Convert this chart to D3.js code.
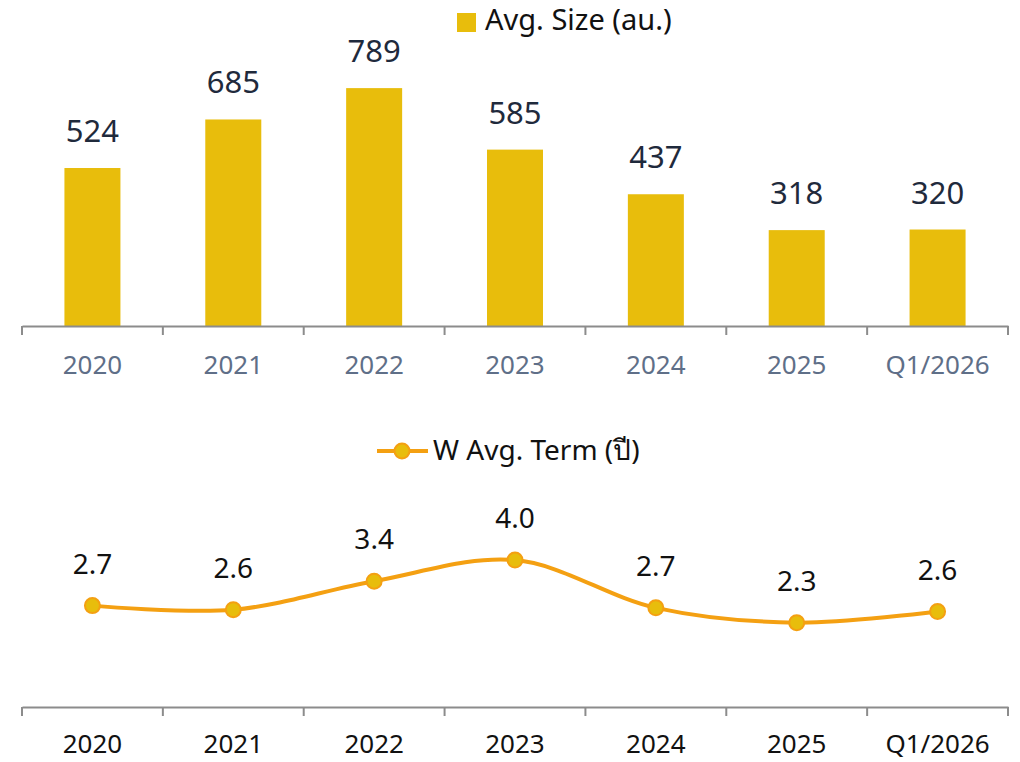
<!DOCTYPE html>
<html><head><meta charset="utf-8">
<script src="https://cdn.jsdelivr.net/npm/d3@7"></script>
<style>body{margin:0;background:#fff}svg{display:block;font-family:"Noto Sans","Open Sans",sans-serif}</style>
</head><body><svg id="c" width="1020" height="762"></svg>
<script>
const categories = ["2020","2021","2022","2023","2024","2025","Q1/2026"];
const avgSize = [524, 685, 789, 585, 437, 318, 320];
const avgTerm = [2.74, 2.63, 3.4, 3.97, 2.68, 2.28, 2.58];
const sizeLegend = "Avg. Size (au.)";
const termLegend = "W Avg. Term (ปี)";

const svg = d3.select("#c");
const barColor = "#e8bd0c", lineColor = "#f4a012", axisColor = "#8c8c8c";

const x = d3.scaleBand().domain(categories).range([22, 1008]).paddingInner(0).paddingOuter(0);
const bw = 56;

// ---- top bar chart ----
const y1 = d3.scaleLinear().domain([0, 1000]).range([326, 24.5]);
const g1 = svg.append("g");
g1.selectAll("rect").data(avgSize).enter().append("rect")
  .attr("x", (d,i) => x(categories[i]) + x.bandwidth()/2 - bw/2)
  .attr("width", bw)
  .attr("y", d => y1(d))
  .attr("height", d => y1(0) - y1(d))
  .attr("fill", barColor);
g1.selectAll("text.v").data(avgSize).enter().append("text")
  .attr("x", (d,i) => x(categories[i]) + x.bandwidth()/2)
  .attr("y", d => y1(d) - 26)
  .attr("text-anchor","middle").attr("font-size", 31).attr("fill","#1f2a3c")
  .text(d => d);

function drawAxis(yPos, color, baseline) {
  const ax = svg.append("g").attr("transform", `translate(0,${yPos})`)
    .call(d3.axisBottom(x).tickSize(0).tickPadding(0));
  ax.select(".domain").attr("stroke", axisColor).attr("stroke-width", 2);
  ax.selectAll(".tick text").attr("font-size", 26).attr("fill", color)
    .attr("y", baseline).attr("dy", 0)
    .attr("font-family", '"Noto Sans","Open Sans",sans-serif');
  const bounds = categories.map(c => x(c)).concat([x.range()[1]]);
  ax.selectAll("line.b").data(bounds).enter().append("line")
    .attr("x1", d => d).attr("x2", d => d).attr("y1", 0).attr("y2", 9)
    .attr("stroke", axisColor).attr("stroke-width", 2);
}
drawAxis(326, "#5f6f88", 48);

// legend top
svg.append("rect").attr("x", 457).attr("y", 13).attr("width", 19).attr("height", 19).attr("fill", barColor);
svg.append("text").attr("x", 485).attr("y", 30).attr("font-size", 29).attr("fill","#111").text(sizeLegend);

// ---- bottom line chart ----
const y2 = d3.scaleLinear().domain([0, 5]).range([707, 522]);
const pts = avgTerm.map((v,i) => [x(categories[i]) + x.bandwidth()/2, y2(v)]);
svg.append("path").datum(pts)
  .attr("d", d3.line().curve(d3.curveCatmullRom.alpha(0.5)))
  .attr("fill","none").attr("stroke", lineColor).attr("stroke-width", 4);
svg.selectAll("circle.p").data(pts).enter().append("circle")
  .attr("cx", d => d[0]).attr("cy", d => d[1]).attr("r", 7.5)
  .attr("fill", barColor).attr("stroke", lineColor).attr("stroke-width", 2);
svg.selectAll("text.t").data(avgTerm).enter().append("text")
  .attr("x", (d,i) => pts[i][0])
  .attr("y", (d,i) => pts[i][1] - 32)
  .attr("text-anchor","middle").attr("font-size", 28).attr("fill","#111")
  .text(d => d3.format(".1f")(d));
drawAxis(707, "#111", 46);

// legend bottom
svg.append("line").attr("x1", 377).attr("x2", 428).attr("y1", 451).attr("y2", 451)
  .attr("stroke", lineColor).attr("stroke-width", 4);
svg.append("circle").attr("cx", 402).attr("cy", 451).attr("r", 7.5)
  .attr("fill", barColor).attr("stroke", lineColor).attr("stroke-width", 2);
svg.append("text").attr("x", 433).attr("y", 460).attr("font-size", 28).attr("fill","#111").text(termLegend);
</script></body></html>
